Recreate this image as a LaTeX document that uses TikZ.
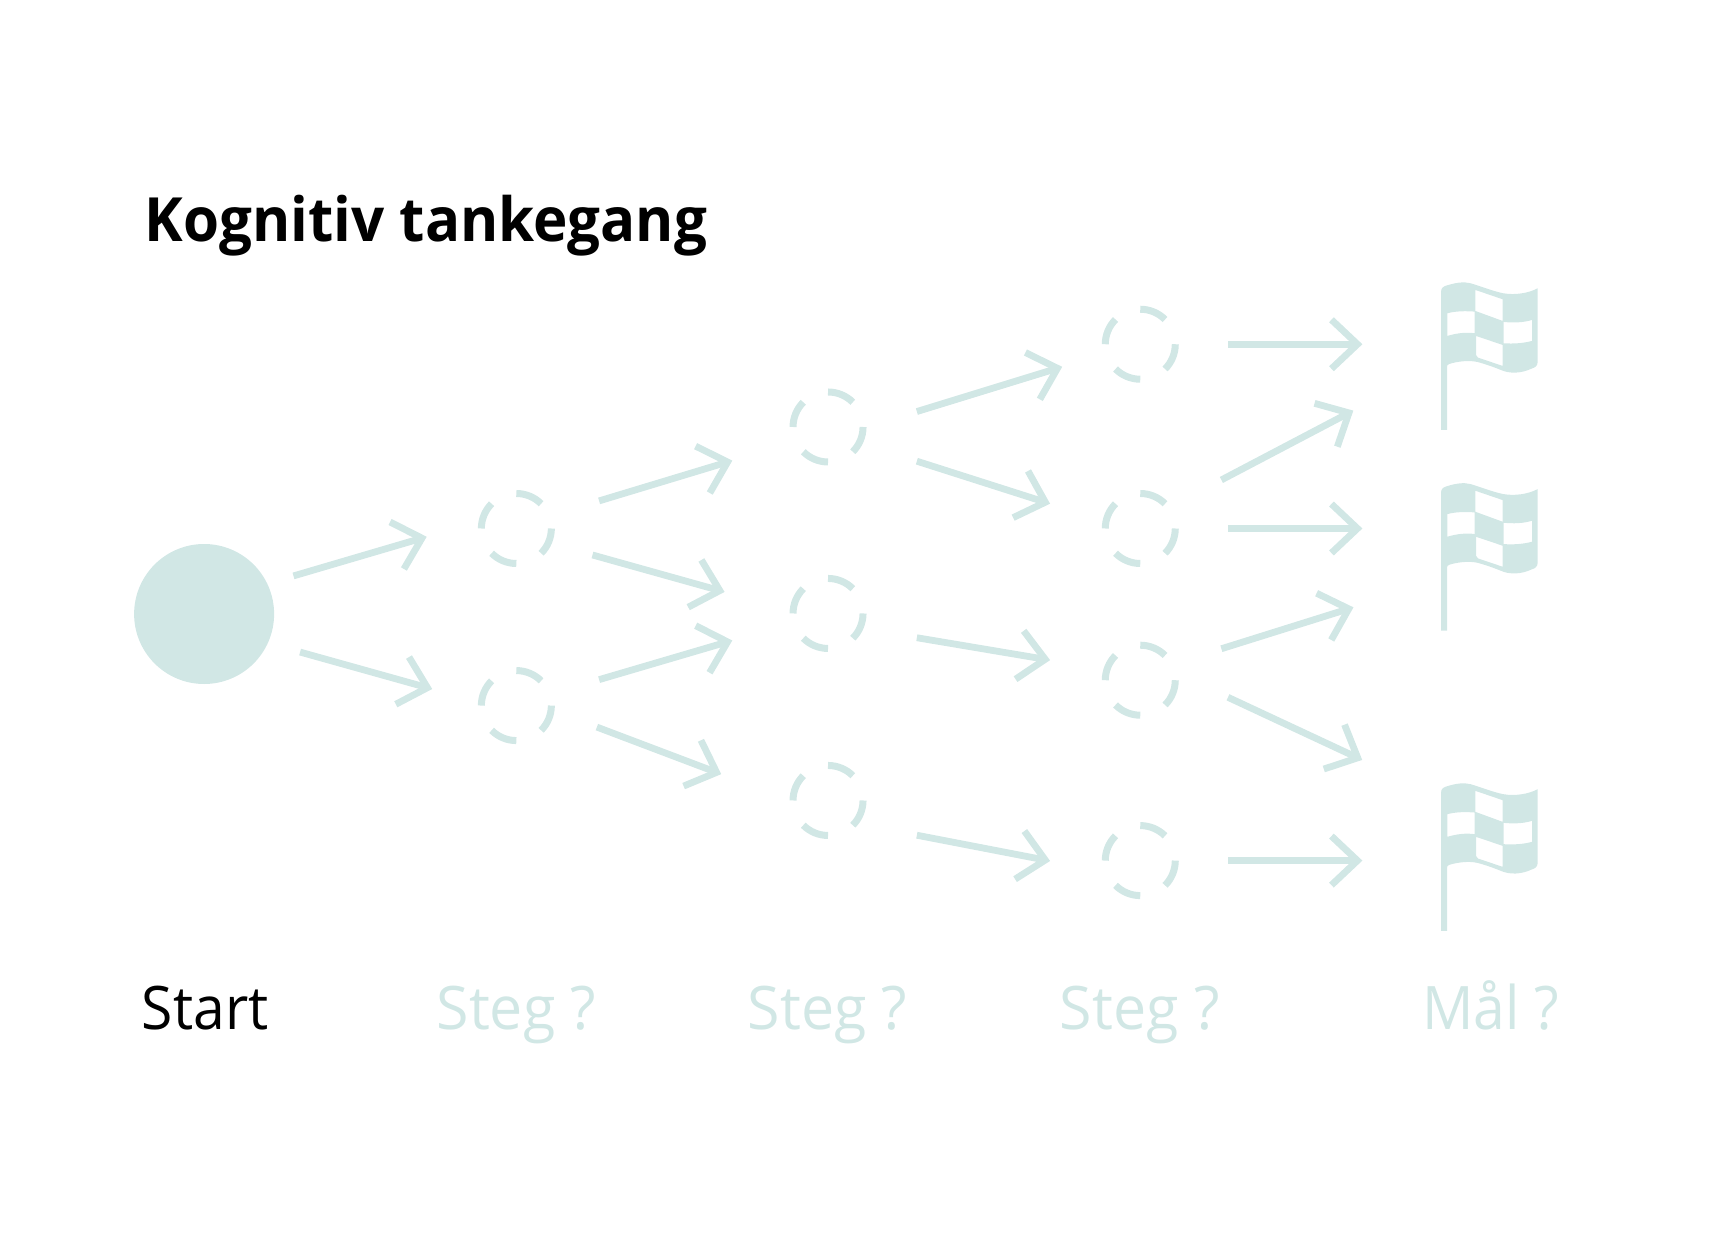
\documentclass[tikz,border=0pt]{standalone}
\usepackage{fontspec}
\setmainfont{Open Sans}
\usetikzlibrary{arrows.meta}
\definecolor{pale}{HTML}{D1E7E5}
\tikzset{
  x=1.10332pt,y=-1.10332pt,
  arr/.style={draw=pale,line width=6.8pt,shorten >=-2pt,-{Straight Barb[length=26pt,width=49pt,line width=6.8pt]}},
  ring/.style={circle,minimum size=76pt,inner sep=0pt},
  dashring/.style={draw=pale,line width=7pt},
  lab/.style={anchor=base,font=\fontsize{60}{72}\selectfont,text=pale},
  flagshape/.pic={
    \fill[pale,even odd rule,x=0.3333pt,y=-0.3333pt]
      (123,512) -- (123,98) .. controls (123,84) and (132,81) .. (142,78)
      .. controls (165,71) and (190,66) .. (212,72)
      .. controls (245,82) and (280,96) .. (310,102)
      .. controls (345,108) and (385,102) .. (413,87)
      -- (413,308) .. controls (413,320) and (405,325) .. (395,328)
      .. controls (365,342) and (330,345) .. (300,331)
      .. controls (280,323) and (255,314) .. (232,308)
      .. controls (205,302) and (170,307) .. (148,314)
      .. controls (143,316) and (141,318) .. (141,323)
      -- (141,512) -- cycle
      (226,92) -- (308,120) -- (308,185) -- (226,155) -- cycle
      (142,162) .. controls (168,155) and (198,155) .. (224,157) -- (224,222) .. controls (198,218) and (168,222) .. (142,230) -- cycle
      (311,188) .. controls (340,191) and (370,190) .. (396,182) -- (396,245) .. controls (370,252) and (340,254) .. (311,252) -- cycle
      (228,230) -- (308,257) -- (308,320) -- (234,295) .. controls (229,293) and (228,291) .. (228,287) -- cycle;
  }
}
\newcommand{\dashring}[1]{%
  \draw[dashring] ([shift={(90:35pt)}]#1.center) arc[start angle=90,end angle=45,radius=35pt];
  \draw[dashring] ([shift={(0:35pt)}]#1.center) arc[start angle=0,end angle=-45,radius=35pt];
  \draw[dashring] ([shift={(-90:35pt)}]#1.center) arc[start angle=-90,end angle=-135,radius=35pt];
  \draw[dashring] ([shift={(180:35pt)}]#1.center) arc[start angle=180,end angle=135,radius=35pt];
}
\newcommand{\conn}[5]{%
  \coordinate (#1s) at (#2,#3);
  \coordinate (#1e) at (#4,#5);
  \draw[arr] (#1s) -- (#1e);
}
\newcommand{\nar}[2][.95]{\scalebox{#1}[1]{#2}}
\begin{document}
\begin{tikzpicture}
\useasboundingbox (0,0) rectangle (1568,1131);
\node[anchor=base west,inner sep=0pt,font=\bfseries\fontsize{61}{72}\selectfont] (title) at (131,219) {\scalebox{.955}[1]{Kognitiv tankegang}};

\node[circle,fill=pale,minimum size=140pt,inner sep=0pt] (start) at (185,556.5) {};

\node[ring] (a1) at (468,479) {};
\node[ring] (a2) at (468,639.5) {};
\node[ring] (b1) at (750.5,387) {};
\node[ring] (b2) at (750.5,556) {};
\node[ring] (b3) at (750.5,725.5) {};
\node[ring] (c1) at (1033.5,312) {};
\node[ring] (c2) at (1033.5,479) {};
\node[ring] (c3) at (1033.5,616.5) {};
\node[ring] (c4) at (1033.5,780) {};
\dashring{a1}\dashring{a2}\dashring{b1}\dashring{b2}\dashring{b3}
\dashring{c1}\dashring{c2}\dashring{c3}\dashring{c4}

\conn{p1}{266}{522}{385}{487}
\conn{p2}{272}{591}{390}{624}
\conn{p3}{543}{454}{662}{418}
\conn{p4}{537}{503}{655}{536}
\conn{p5}{543}{616}{662}{581}
\conn{p6}{541}{659}{652}{701}
\conn{p7}{831}{373}{961}{333}
\conn{p8}{831}{418}{950}{456}
\conn{p9}{831}{578}{950}{598}
\conn{p10}{831}{757}{950}{780}
\conn{p11}{1107}{435}{1225}{373}
\conn{p12}{1113}{312}{1233}{312}
\conn{p13}{1113}{479}{1233}{479}
\conn{p14}{1107}{588}{1225}{551}
\conn{p15}{1113}{632}{1233}{688}
\conn{p16}{1113}{780}{1233}{780}

\pic (f1) at (1268.9,235.0) {flagshape};
\pic (f2) at (1268.9,417.0) {flagshape};
\pic (f3) at (1268.9,689.0) {flagshape};

\node[lab,text=black] (l0) at (186,933) {\nar{Start}};
\node[lab] (l1) at (468,933) {\nar[.985]{Steg ?}};
\node[lab] (l2) at (750,933) {\nar[.985]{Steg ?}};
\node[lab] (l3) at (1033,933) {\nar[.985]{Steg ?}};
\node[lab] (l4) at (1351,933) {\nar{Mål ?}};
\end{tikzpicture}
\end{document}
